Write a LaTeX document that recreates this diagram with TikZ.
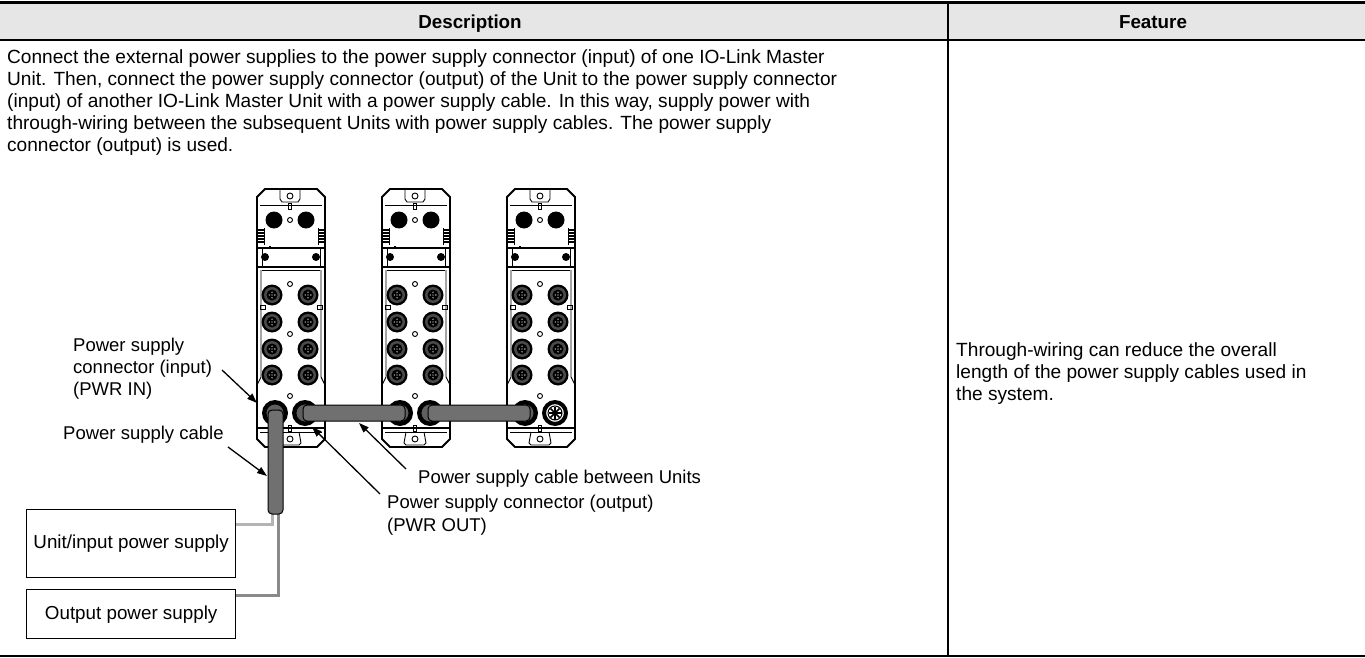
\documentclass[tikz,border=0pt]{standalone}
\usepackage{fontspec}
\setmainfont{Liberation Sans}
\usetikzlibrary{arrows.meta}
\definecolor{hdrgray}{HTML}{E6E6E6}
\definecolor{cablegray}{HTML}{707070}
\definecolor{wirelight}{HTML}{B4B4B4}
\definecolor{wiredark}{HTML}{8A8A8A}
\definecolor{mdark}{HTML}{2A2A2A}
\begin{document}
\begin{tikzpicture}[x=1pt,y=-1pt,
  txt/.style={font=\fontsize{18.5}{22}\selectfont, inner sep=0pt, anchor=base west},
  body/.style={font=\fontsize{19.1}{22}\selectfont, inner sep=0pt, anchor=base west},
  hdr/.style={font=\fontsize{18.8}{22}\selectfont\bfseries, inner sep=0pt, anchor=base},
  ptr/.style={line width=1.3pt, -{Triangle[length=10pt,width=7pt]}},
  ulin/.style={line width=1.8pt},
  thin/.style={line width=0.9pt},
  psubox/.style={draw, line width=1.3pt, minimum width=209pt, inner sep=0pt, font=\fontsize{18.8}{22}\selectfont},
  cable/.style={fill=cablegray, draw=black, line width=1pt},
  wirea/.style={draw=wirelight, line width=3pt},
  wireb/.style={draw=wiredark, line width=3pt}]
\useasboundingbox (0,0) rectangle (1365,658);
% table
\fill[hdrgray] (0,3) rectangle (1365,40);
\draw[line width=3pt] (0,3) -- (1365,3);
\draw[line width=2.5pt] (0,40) -- (1365,40);
\draw[line width=1.5pt] (948,3) -- (948,656);
\draw[line width=1.5pt] (0,656) -- (1365,656);
\node[hdr] (hdesc) at (470,28.5) {Description};
\node[hdr] (hfeat) at (1153,28.5) {Feature};
% description text
\node[body] (d1) at (7,64) {Connect the external power supplies to the power supply connector (input) of one IO-Link Master};
\node[body] (d2) at (7,86) {Unit. Then, connect the power supply connector (output) of the Unit to the power supply connector};
\node[body] (d3) at (7,108) {(input) of another IO-Link Master Unit with a power supply cable. In this way, supply power with};
\node[body] (d4) at (7,130) {through-wiring between the subsequent Units with power supply cables. The power supply};
\node[body] (d5) at (7,152) {connector (output) is used.};
% feature text
\node[body] (f1) at (956,356) {Through-wiring can reduce the overall};
\node[body] (f2) at (956,378) {length of the power supply cables used in};
\node[body] (f3) at (956,400) {the system.};
% units
\foreach \ux in {257,382,507}{
\begin{scope}[shift={(\ux,189)}]
  \draw[ulin, fill=white] (0,8) -- (8,0) -- (60,0) -- (68,8) -- (68,250) -- (60,258) -- (8,258) -- (0,250) -- cycle;
  \draw[thin] (23,0) -- (23,10) -- (25,13) -- (41,13) -- (43,10) -- (43,0);
  \draw[thin] (33,7) circle (3);
  \draw[line width=0.7pt] (3,16) -- (65,16);
  \draw[thin] (31.5,14) rectangle (34.5,20);
  \fill (17,31) circle (8.5);
  \fill (49,31) circle (8.5);
  \draw[thin] (33,31) circle (2.5);
  \foreach \gy in {41,44,...,54}{
    \draw[line width=1.2pt] (1,\gy) -- (7,\gy);
    \draw[line width=1.2pt] (61,\gy) -- (67,\gy);
  }
  \draw[thin] (7,39) -- (7,56);
  \draw[thin] (61,39) -- (61,56);
  \fill (12,57) rectangle (14,58);
  \draw[line width=1.6pt] (0,59) -- (68,59);
  \draw[thin] (5,59) -- (5,78); \draw[thin] (63,59) -- (63,78);
  \fill (8,68) circle (4);
  \fill (59,68) circle (4);
  \draw[line width=1.2pt] (0,78) -- (68,78);
  \draw[thin] (5,81) -- (63,81);
  \draw[thin] (4,81) -- (4,188) -- (0,196);
  \draw[thin] (64,81) -- (64,188) -- (68,196);
  \draw[thin] (3,116) rectangle (8,120);
  \draw[thin] (60,116) rectangle (65,120);
  \draw[thin] (33,95) circle (2.5);
  \draw[thin] (33,145) circle (2.5);
  \draw[thin] (33,207) circle (2.5);
  \foreach \cy in {106,133,160,186}{
    \foreach \cx in {15,51}{
      \fill[black] (\cx,\cy) circle (10.5);
      \fill[mdark!85!white] (\cx,\cy) circle (8);
      \fill[black] (\cx,\cy) circle (5.5);
      \foreach \dx/\dy in {0/0,2.8/0,-2.8/0,0/2.8,0/-2.8}{
        \fill[white] (\cx+\dx,\cy+\dy) circle (0.7);
      }
    }
  }
  \fill (18,224) circle (13);
  \fill (48,224) circle (13);
  \draw[line width=1.2pt] (0,239) -- (68,239);
  \draw[thin] (3,243) -- (65,243);
  \draw[thin] (24,243) -- (22,254) -- (24,256) -- (42,256) -- (44,254) -- (42,243);
  \draw[thin] (33,250) circle (3);
  \draw[thin] (31.5,236) rectangle (34.5,242);
\end{scope}
}
% PWR OUT cap on the third unit
\fill[white] (555,413) circle (9.5);
\draw[line width=1.2pt] (555,413) circle (9.5);
\draw[line width=1pt] (555,413) circle (7);
\foreach \a in {0,45,...,315}{\draw[line width=1.6pt] (555,413) -- ++(\a:6.5);}
\fill (555,413) circle (2.5);
% named connector points
\coordinate (pin1) at (275,413);
\coordinate (pout1) at (305,413);
\coordinate (pin2) at (400,413);
\coordinate (pout2) at (430,413);
\coordinate (pin3) at (525,413);
% supplies and wires
\node[psubox, minimum height=68pt, anchor=north west] (psu1) at (26,509) {Unit/input power supply};
\node[psubox, minimum height=49pt, anchor=north west] (psu2) at (26,589) {Output power supply};
\coordinate (cabA) at (272,512);
\coordinate (cabB) at (278,512);
\draw[wirea] (cabA) |- ([yshift=19pt]psu1.east);
\draw[wireb] (cabB) |- ([yshift=18.5pt]psu2.east);
% plug heads
\foreach \p in {pin1,pout1,pin2,pout2,pin3}{
  \fill[cablegray!85!black] (\p) circle (9);
  \draw[line width=0.8pt] (\p) circle (9);
}
% vertical cable
\draw[cable, rounded corners=4pt] (268,514) -- (268,410) -- (283,410) -- (283,514) -- cycle;
% cables between units
\draw[cable, rounded corners=4pt] ([xshift=-2pt,yshift=8pt]pout1) rectangle ([xshift=5pt,yshift=-8pt]pin2);
\draw[cable, rounded corners=4pt] ([xshift=-2pt,yshift=8pt]pout2) rectangle ([xshift=5pt,yshift=-8pt]pin3);
% labels
\node[txt] (lin1) at (73,351) {Power supply};
\node[txt] (lin2) at (73,373) {connector (input)};
\node[txt] (lin3) at (73,395) {(PWR IN)};
\node[txt] (lcab) at (63,439) {Power supply cable};
\node[txt] (lbet) at (418,483) {Power supply cable between Units};
\node[txt] (lout1) at (387,508) {Power supply connector (output)};
\node[txt] (lout2) at (387,531) {(PWR OUT)};
\coordinate (ain) at (222,370);
\coordinate (ainT) at (257,403);
\coordinate (acab) at (228,447);
\coordinate (acabT) at (267,476);
\coordinate (abet) at (406,469);
\coordinate (abetT) at (359,423);
\coordinate (aout) at (380,494);
\coordinate (aoutT) at (312,427);
\draw[ptr] (ain) -- (ainT);
\draw[ptr] (acab) -- (acabT);
\draw[ptr] (abet) -- (abetT);
\draw[ptr] (aout) -- (aoutT);
\end{tikzpicture}
\end{document}
